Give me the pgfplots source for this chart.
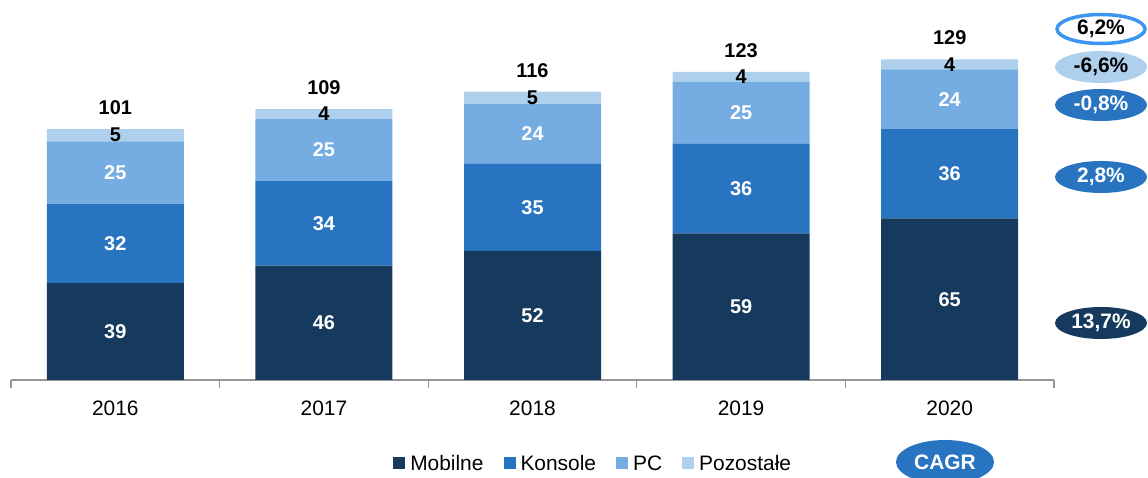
\documentclass[border=0pt]{standalone}
\usepackage{pgfplots}
\pgfplotsset{compat=1.18}
\usepackage{fontspec}
\setmainfont{Liberation Sans}
\usetikzlibrary{shapes.geometric}
\definecolor{cMob}{RGB}{22,58,94}
\definecolor{cKon}{RGB}{41,116,192}
\definecolor{cPC}{RGB}{117,172,226}
\definecolor{cPoz}{RGB}{174,208,237}
\definecolor{cRing}{RGB}{58,150,240}
\definecolor{cAxis}{RGB}{150,150,150}
\newcommand{\fs}{\fontsize{20}{24}\selectfont}
\newcommand{\fl}{\fontsize{21}{25}\selectfont}
\pgfplotsset{
  common/.style={
    at={(11bp,98bp)}, anchor=south west,
    scale only axis, width=1043bp, height=372.75bp,
    xmin=0.5, xmax=5.5, ymin=0, ymax=150,
    /pgf/number format/assume math mode=true,
  }
}
\begin{document}
\begin{tikzpicture}[x=1bp,y=1bp]
\path[use as bounding box] (0,0) rectangle (1148,478);
\begin{axis}[
  common,
  ybar stacked, bar width=137bp,
  axis x line*=bottom, axis y line=none,
  axis line style={cAxis, line width=1.2bp},
  xtick={1,2,3,4,5},
  xticklabels={2016,2017,2018,2019,2020},
  major tick length=0pt,
  extra x ticks={0.5,1.5,2.5,3.5,4.5,5.5},
  extra x tick labels={},
  extra x tick style={major tick length=8bp, tick align=outside, tick style={cAxis, line width=1.2bp}},
  xticklabel style={font=\fl, yshift=-17bp},
  seg/.style 2 args={fill=#1, draw=none,
    visualization depends on=rawy\as\rawy,
    nodes near coords={\pgfmathprintnumber{\rawy}},
    every node near coord/.append style={anchor=center, font=\fs\bfseries, text=#2}},
  legend style={at={(rel axis cs:0.3663,-0.224)}, anchor=west, draw=none, fill=none, font=\fl,
    legend columns=4, inner sep=0pt, nodes={inner xsep=5bp, inner ysep=0pt},
    /tikz/every even column/.append style={column sep=15bp}},
  legend cell align=left,
  legend image code/.code={\fill[#1] (0bp,-6bp) rectangle (12bp,6bp);},
]
\addplot[seg={cMob}{white}] coordinates {(1,39) (2,46) (3,52) (4,59) (5,65)};
\addplot[seg={cKon}{white}] coordinates {(1,32) (2,34) (3,35) (4,36) (5,36)};
\addplot[seg={cPC}{white}] coordinates {(1,25) (2,25) (3,24) (4,25) (5,24)};
\addplot[seg={cPoz}{black}] coordinates {(1,5) (2,4) (3,5) (4,4) (5,4)};
\legend{Mobilne,Konsole,PC,Pozostałe}
\end{axis}
\begin{axis}[common, hide axis]
\addplot[draw=none, mark=none, point meta=explicit symbolic, nodes near coords,
  every node near coord/.append style={anchor=south, font=\fs\bfseries, text=black, yshift=11bp}]
  coordinates {(1,101)[101] (2,109)[109] (3,116)[116] (4,124)[123] (5,129)[129]};
\end{axis}
\tikzset{cagr/.style={ellipse, minimum width=92bp, minimum height=32bp, inner sep=0pt, font=\fl\bfseries}}
\node[cagr, draw=cRing, line width=3.5bp, fill=white, text=black, minimum width=88bp, minimum height=29bp] at (1101,449) {6,2\%};
\node[cagr, fill=cPoz, text=black] at (1101,411) {-6,6\%};
\node[cagr, fill=cKon, text=white] at (1101,373) {-0,8\%};
\node[cagr, fill=cKon, text=white] at (1101,301) {2,8\%};
\node[cagr, fill=cMob, text=white] at (1101,155) {13,7\%};
\node[cagr, fill=cKon, text=white, minimum width=98bp, minimum height=44bp] at (945,16) {CAGR};
\end{tikzpicture}
\end{document}
